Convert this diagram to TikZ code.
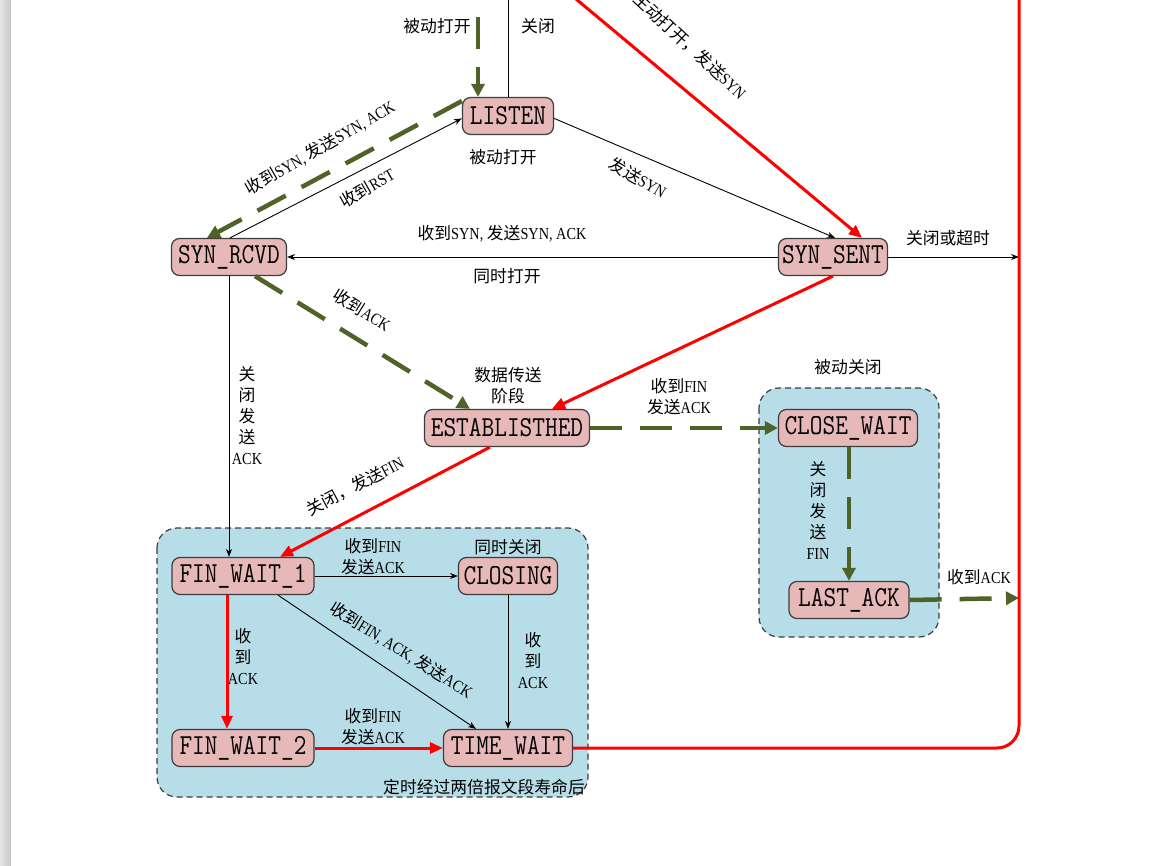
\documentclass[tikz,border=0pt]{standalone}
\usepackage{fontspec}
\setmainfont[FakeStretch=0.85]{Liberation Serif}
\newfontfamily\cjk{Noto Sans CJK SC}
\newfontfamily\nodefont[FakeStretch=0.85]{Latin Modern Mono}
\usetikzlibrary{arrows.meta}
\newcommand{\z}[1]{{\cjk #1}}
\definecolor{nodefill}{RGB}{230,185,184}
\definecolor{grpfill}{RGB}{183,221,232}
\definecolor{grn}{RGB}{79,98,40}
\definecolor{bordergray}{RGB}{60,60,60}
\definecolor{purered}{RGB}{255,0,0}
\tikzset{
  st/.style={draw=bordergray, line width=1.2pt, fill=nodefill, rounded corners=8pt,
    font=\nodefont\fontsize{29}{30}\selectfont, inner sep=0pt, minimum height=37pt},
  lbl/.style={font=\fontsize{16.8}{21}\selectfont, align=center, inner sep=0pt},
  blk/.style={draw=black, line width=0.9pt, -{Stealth[length=8pt,width=6pt]}},
  redline/.style={draw=purered, line width=3pt, -{Triangle[length=13pt,width=11pt]}},
  grnline/.style={draw=grn, line width=4.5pt, dash pattern=on 32pt off 18pt, -{Triangle[length=13pt,width=13pt]}},
  grp/.style={draw=bordergray, dash pattern=on 6pt off 4pt, line width=1.2pt, fill=grpfill, rounded corners=20pt}
}
\begin{document}
\begin{tikzpicture}[x=1pt,y=-1pt]
\useasboundingbox (0,0) rectangle (1152,866);
\fill[white] (0,0) rectangle (1152,866);
% left gray strip
\shade[left color=black!10, right color=black!22] (0,0) rectangle (11,866);
% groups
\draw[grp] (157,528) rectangle (588,797);
\draw[grp] (759,388) rectangle (939,637);
% nodes
\node[st, minimum width=91pt] (L) at (508,116) {LISTEN};
\node[st, minimum width=115pt] (R) at (229,257) {SYN\_RCVD};
\node[st, minimum width=109pt] (S) at (833,257) {SYN\_SENT};
\node[st, minimum width=165pt] (E) at (507,428) {ESTABLISTHED};
\node[st, minimum width=139pt] (CW) at (848,428) {CLOSE\_WAIT};
\node[st, minimum width=120pt] (LA) at (849,600) {LAST\_ACK};
\node[st, minimum width=142pt] (F1) at (243,576) {FIN\_WAIT\_1};
\node[st, minimum width=99pt] (CL) at (508,576) {CLOSING};
\node[st, minimum width=142pt] (F2) at (243,748) {FIN\_WAIT\_2};
\node[st, minimum width=129pt] (TW) at (508,748) {TIME\_WAIT};
% free ends
\coordinate (topG) at (478,-1);
\coordinate (topK) at (508,-6);
\coordinate (topR) at (570,-6);
\coordinate (rS) at (1019,257);
\coordinate (rLA) at (1019,598);
\coordinate (rTW) at (1019,748);
\coordinate (rTop) at (1019,-6);
% connectors
\draw[grnline, dash phase=32pt] (topG) -- ([xshift=-30pt]L.north);
\draw[draw=black, line width=0.9pt] (L.north) -- (topK);
\draw[redline] (topR) -- ([xshift=29pt]S.north);
\draw[grnline] (L.162) -- ([xshift=-22pt]R.north);
\draw[blk] ([xshift=1pt]R.north) -- (L.183);
\draw[blk] (L.-3) -- ([xshift=2pt]S.north);
\draw[blk] (S.west) -- (R.east);
\draw[blk] (S.east) -- (rS);
\draw[grnline] ([xshift=26pt]R.south) -- ([xshift=-37pt]E.north);
\draw[redline] (S.south) -- ([xshift=45pt]E.north);
\draw[blk] (R.south) -- ([xshift=-14pt]F1.north);
\draw[grnline] (E.east) -- (CW.west);
\draw[redline] ([xshift=-17pt]E.south) -- ([xshift=37pt]F1.north);
\draw[grnline] ([xshift=1pt]CW.south) -- (LA.north);
\draw[grnline] (LA.east) -- (rLA);
\draw[blk] (F1.east) -- (CL.west);
\draw[blk] ([xshift=35pt]F1.south) -- ([xshift=-32pt]TW.north);
\draw[blk] (CL.south) -- (TW.north);
\draw[redline] ([xshift=-16pt]F1.south) -- ([xshift=-16pt]F2.north);
\draw[redline] (F2.east) -- (TW.west);
\draw[redline, -, rounded corners=22pt] (TW.east) -- (rTW) -- (rTop);
% labels
\node[lbl] (l1) at (437,26) {\z{被动打开}};
\node[lbl] (l2) at (538,26) {\z{关闭}};
\node[lbl, rotate=-43] (l3) at (690,46) {\z{主动打开，发送}SYN};
\node[lbl, rotate=30] (l4) at (320,148) {\z{收到}SYN, \z{发送}SYN, ACK};
\node[lbl, rotate=30] (l5) at (367,188) {\z{收到}RST};
\node[lbl] (l6) at (503,157) {\z{被动打开}};
\node[lbl, rotate=-30] (l7) at (638,178) {\z{发送}SYN};
\node[lbl] (l8) at (502,234) {\z{收到}SYN, \z{发送}SYN, ACK};
\node[lbl] (l9) at (507,276) {\z{同时打开}};
\node[lbl] (l10) at (948,238) {\z{关闭或超时}};
\node[lbl, rotate=-32] (l11) at (362,310) {\z{收到}ACK};
\node[lbl] (l12) at (508,386) {\z{数据传送}\\\z{阶段}};
\node[lbl] (l13) at (848,367) {\z{被动关闭}};
\node[lbl] (l14) at (679,397) {\z{收到}FIN\\\z{发送}ACK};
\node[lbl] (l15) at (247,416) {\z{关}\\\z{闭}\\\z{发}\\\z{送}\\ACK};
\node[lbl, rotate=28] (l16) at (355,486) {\z{关闭，发送}FIN};
\node[lbl] (l17) at (818,510) {\z{关}\\\z{闭}\\\z{发}\\\z{送}\\FIN};
\node[lbl] (l18) at (979,577) {\z{收到}ACK};
\node[lbl] (l19) at (373,557) {\z{收到}FIN\\\z{发送}ACK};
\node[lbl] (l20) at (508,547) {\z{同时关闭}};
\node[lbl] (l21) at (243,657) {\z{收}\\\z{到}\\ACK};
\node[lbl, rotate=-32] (l22) at (401,650) {\z{收到}FIN, ACK, \z{发送}ACK};
\node[lbl] (l23) at (533,661) {\z{收}\\\z{到}\\ACK};
\node[lbl] (l24) at (373,727) {\z{收到}FIN\\\z{发送}ACK};
\node[lbl, anchor=east] (l25) at (585,787) {\z{定时经过两倍报文段寿命后}};
\end{tikzpicture}
\end{document}
